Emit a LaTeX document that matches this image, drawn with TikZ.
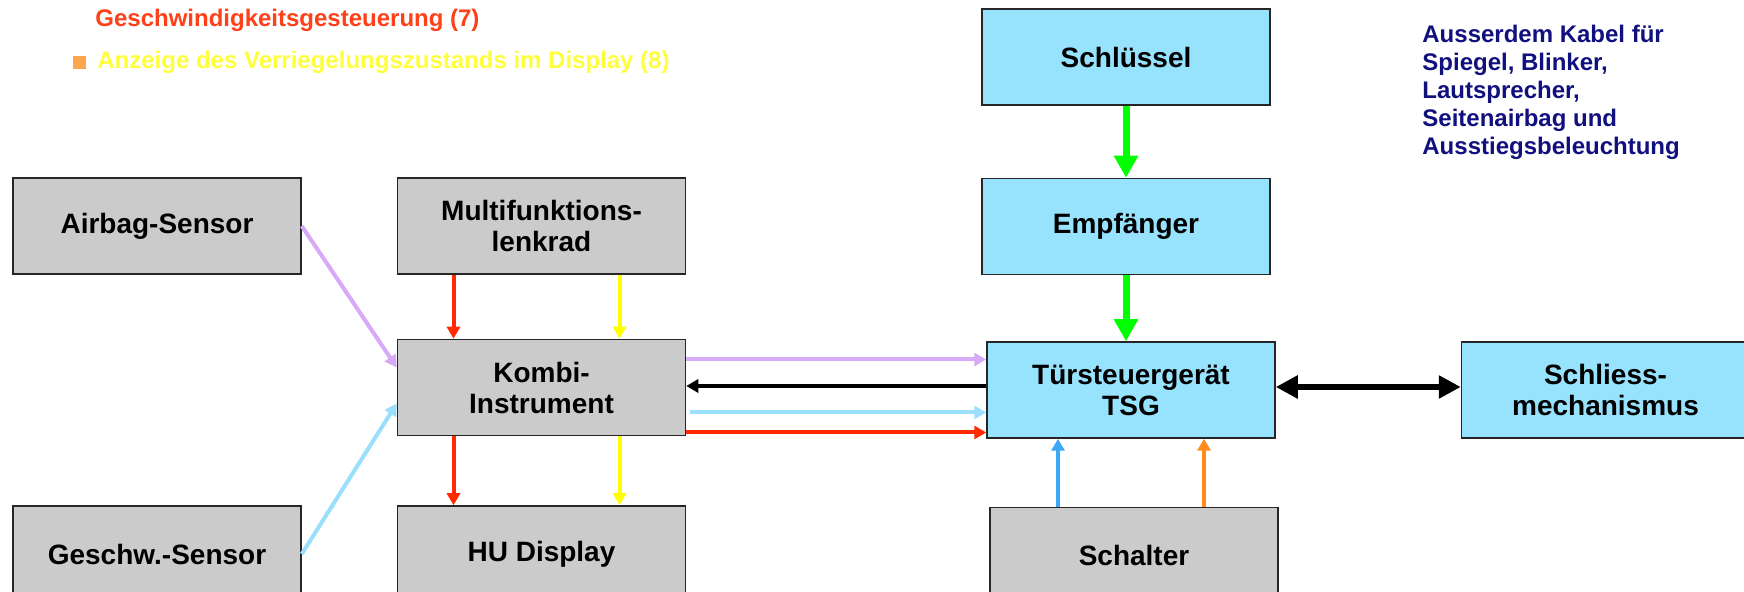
\documentclass[tikz,border=0pt]{standalone}
\usepackage{fontspec}
\setmainfont{Liberation Sans}
\usetikzlibrary{arrows.meta,positioning}
\definecolor{boxgray}{HTML}{CBCBCB}
\definecolor{boxcyan}{HTML}{97E2FC}
\definecolor{hdred}{HTML}{FF4019}
\definecolor{hdyel}{HTML}{FFFF3A}
\definecolor{bul}{HTML}{FFA64D}
\definecolor{navy}{HTML}{10107F}
\definecolor{cvio}{HTML}{D6AAF7}
\definecolor{clblue}{HTML}{9ADFFB}
\definecolor{cred}{HTML}{FF2B00}
\definecolor{cyel}{HTML}{FFFF00}
\definecolor{cgreen}{HTML}{00FF00}
\definecolor{cblue}{HTML}{3DA8F5}
\definecolor{corange}{HTML}{FF8C1A}
\tikzset{
  box/.style={draw=black!85,line width=0.75pt,fill=boxgray,align=center,inner sep=0pt,
    minimum width=144pt,minimum height=48pt,font=\fontsize{14}{15.5}\selectfont\bfseries},
  cbox/.style={box,fill=boxcyan},
  txt/.style={inner sep=0pt,font=\fontsize{12}{14}\selectfont\bfseries},
  ar/.style={-{Triangle[length=6pt,width=6.5pt]},line width=2pt},
  bigar/.style={-{Triangle[length=11pt,width=11.5pt]},line width=3.5pt},
}

\begin{document}
\begin{tikzpicture}[x=0.5pt,y=-0.5pt]
\clip (0,0) rectangle (1744,592);
\fill[white] (0,0) rectangle (1744,592);
% header lines
\node[txt,anchor=base west,text=hdred] (h1) at (95,27) {Geschwindigkeitsgesteuerung (7)};
\node[fill=bul,minimum size=6.5pt,inner sep=0pt] (blt) at (79.5,62.5) {};
\node[txt,anchor=base west,text=hdyel] (h2) at (97,69) {Anzeige des Verriegelungszustands im Display (8)};
\node[txt,anchor=north west,align=left,text=navy] (note) at (1422,25)
  {Ausserdem Kabel für\\Spiegel, Blinker,\\Lautsprecher,\\Seitenairbag und\\Ausstiegsbeleuchtung};
% left part
\node[box] (a) at (157,226) {Airbag-Sensor};
\node[box,right=47.5pt of a] (m) {Multifunktions-\\lenkrad};
\node[box,below=32pt of m] (k) {Kombi-\\Instrument};
\node[box,below=34.5pt of k] (hu) {HU Display};
\node[box,left=47.5pt of hu] (g) {Geschw.-Sensor};
% right part
\node[cbox] (s) at (1126,57) {Schlüssel};
\node[cbox,below=36pt of s] (e) {Empfänger};
\node[cbox,below=33pt of e,xshift=2.5pt] (tsg) {Türsteuergerät\\TSG};
\node[cbox,right=92.5pt of tsg] (sm) {Schliess-\\mechanismus};
\node[box,below=34pt of tsg,xshift=1.5pt] (sw) {Schalter};
% connectors
\draw[bigar,cgreen] (s) -- (e);
\draw[bigar,cgreen] (e.south) -- (e.south |- tsg.north);
\draw[ar,cvio] (a.east) -- ([yshift=10pt]k.west);
\draw[ar,clblue] (g.east) -- ([yshift=-8pt]k.west);
\draw[ar,cred] ([xshift=-44pt]m.south) -- ([xshift=-44pt]m.south |- k.north);
\draw[ar,cyel] ([xshift=39pt]m.south) -- ([xshift=39pt]m.south |- k.north);
\draw[ar,cred] ([xshift=-44pt]k.south) -- ([xshift=-44pt]k.south |- hu.north);
\draw[ar,cyel] ([xshift=39pt]k.south) -- ([xshift=39pt]k.south |- hu.north);
\draw[ar,cvio] ([yshift=14pt]k.east) -- ([yshift=14pt]k.east -| tsg.west);
\draw[ar,black] ([yshift=2pt]tsg.west) -- ([yshift=2pt]tsg.west -| k.east);
\draw[ar,clblue] ([xshift=2pt,yshift=-12.5pt]k.east) -- ([yshift=-12.5pt]k.east -| tsg.west);
\draw[ar,cred] ([yshift=-22.5pt]k.east) -- ([yshift=-22.5pt]k.east -| tsg.west);
\draw[ar,cblue] ([xshift=-38pt]sw.north) -- ([xshift=-38pt]sw.north |- tsg.south);
\draw[ar,corange] ([xshift=35pt]sw.north) -- ([xshift=35pt]sw.north |- tsg.south);
\draw[{Triangle[length=11pt,width=11pt]}-{Triangle[length=11pt,width=11pt]},line width=3pt]
  ([yshift=1.5pt]tsg.east) -- ([yshift=1.5pt]tsg.east -| sm.west);
\end{tikzpicture}
\end{document}
